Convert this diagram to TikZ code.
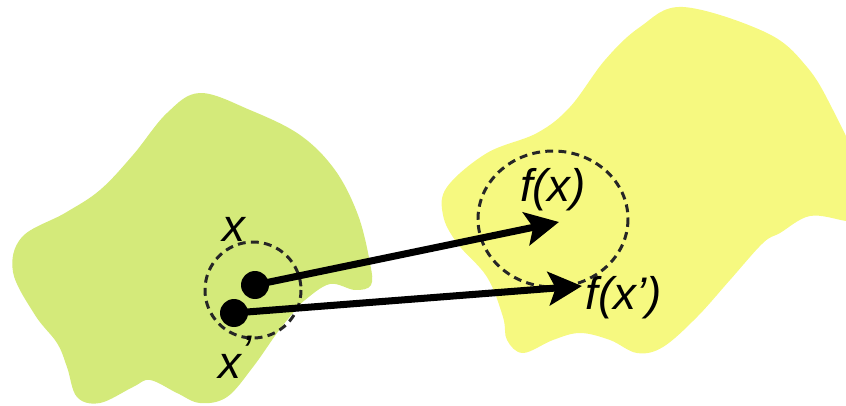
\documentclass[tikz,border=0pt]{standalone}
\usepackage{fontspec}
\setmainfont{Liberation Sans}
\usetikzlibrary{arrows.meta}
\definecolor{greenblob}{RGB}{212,234,122}
\definecolor{yellowblob}{RGB}{246,249,128}
\tikzset{
  px/.style={x={(0.02cm,0)},y={(0,-0.02cm)}},
  dashring/.style={draw=black!85,line width=1.7pt,dash pattern=on 4.5pt off 3pt},
  dotnode/.style={circle,fill=black,minimum size=0.56cm,inner sep=0pt},
  maparrow/.style={line width=4pt,-{Stealth[length=19pt,width=19pt,inset=4pt]}},
  lbl/.style={font=\fontsize{26}{30}\selectfont\itshape,inner sep=0pt}
}
\begin{document}
\begin{tikzpicture}[px]
\useasboundingbox (0,0) rectangle (846,406);
\begin{scope}
\clip (0,0) rectangle (846,406);
\fill[greenblob] plot[smooth cycle,tension=0.6] coordinates {
 (200,93) (250,110) (300,135) (335,170) (358,215) (370,263) (371,285)
 (355,290) (330,284) (305,300) (293,313) (277,333) (253,367) (227,397)
 (200,403) (177,393) (150,380) (133,387) (100,403) (77,397) (67,367)
 (57,343) (35,315) (13,272) (22,237) (65,213) (100,190) (133,155) (167,113)};
\fill[yellowblob] plot[smooth cycle,tension=0.6] coordinates {
 (683,7) (767,33) (807,67) (833,110) (860,170) (870,225) (846,221)
 (810,216) (780,233) (763,243) (730,280) (697,317) (663,347) (637,353)
 (610,340) (580,333) (553,340) (523,353) (507,340) (503,317) (487,277)
 (457,243) (443,215) (447,187) (487,153) (537,133) (570,107) (605,60) (640,27)};
\end{scope}
\draw[dashring] (253,290) circle[radius=48];
\draw[dashring] (553,219) ellipse[x radius=75,y radius=68];
\node[dotnode] (p1) at (255,285) {};
\node[dotnode] (p2) at (234,313) {};
\coordinate (t1) at (559,222);
\coordinate (t2) at (582,286);
\draw[maparrow] (p1.center) -- (t1);
\draw[maparrow] (p2.center) -- (t2);
\node[lbl] (lx) at (234,229) {x};
\node[lbl,anchor=base west] (lxp) at (218,378) {x\raisebox{0.22em}{’}};
\node[lbl] (lfx) at (553,190) {f(x)};
\node[lbl] (lfxp) at (624,298) {f(x’)};
\end{tikzpicture}
\end{document}
